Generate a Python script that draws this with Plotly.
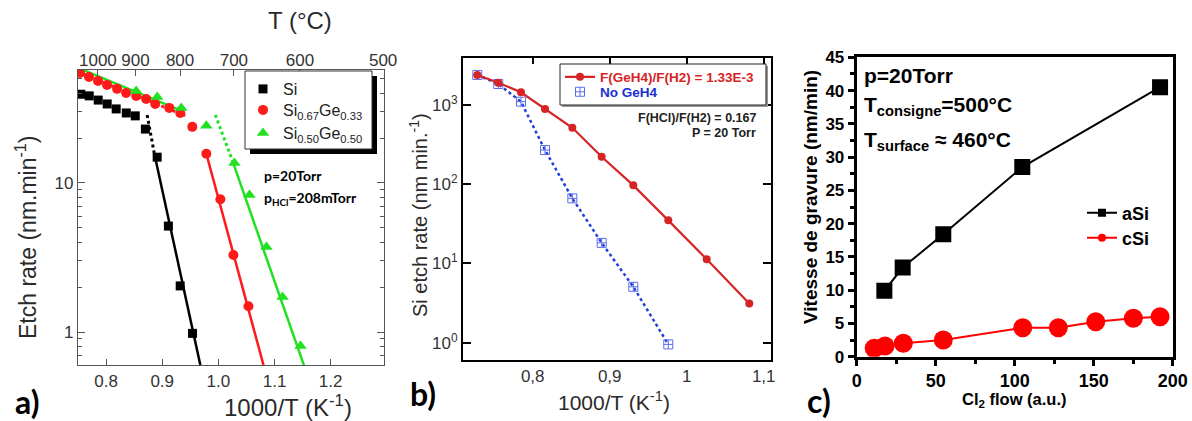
import plotly.graph_objects as go

W, H = 1192, 421

def PX(x):
    return x / W

def PY(y):
    return 1 - y / H

# ---------------- Panel a data ----------------
si_x = [0.755, 0.770, 0.786, 0.802, 0.818, 0.836, 0.852, 0.870, 0.891, 0.911, 0.932, 0.954]
si_y = [39.4, 38.4, 36.0, 33.9, 31.4, 29.5, 28.2, 23.0, 14.9, 5.14, 2.04, 0.98]
sige33_x = [0.7536, 0.7696, 0.7857, 0.8018, 0.8196, 0.8357, 0.8536, 0.8714, 0.8875, 0.9125,
            0.9321, 0.9536, 0.9786, 1.0036, 1.0268, 1.0536]
sige33_y = [54.7, 51.4, 48.4, 45.5, 42.8, 40.2, 38.4, 36.6, 33.9, 31.9, 29.5, 23.8, 15.7,
            7.78, 3.29, 1.49]
sige50_x = [0.8536, 0.8911, 0.9339, 0.9786, 1.0286, 1.0554, 1.0857, 1.1143, 1.1464]
sige50_y = [41.4, 37.8, 31.9, 24.2, 13.6, 8.3, 3.72, 1.72, 0.805]

si_fitdot_x = [0.8732, 0.8857]
si_fitdot_y = [28.6, 15.9]
si_fit_x = [0.8857, 0.9679]
si_fit_y = [15.9, 0.60]
r_fitdot_x = [0.750, 0.941]
r_fitdot_y = [55.6, 28.3]
r_fit_x = [0.9786, 1.0804]
r_fit_y = [15.7, 0.60]
g_fitup_x = [0.750, 0.938]
g_fitup_y = [59.2, 30.1]
g_fitdot_x = [0.9946, 1.0245]
g_fitdot_y = [28.6, 14.3]
g_fit_x = [1.0245, 1.1523]
g_fit_y = [14.3, 0.60]

a_xticks = [0.8, 0.9, 1.0, 1.1, 1.2]
a_xticktext = ["0.8", "0.9", "1.0", "1.1", "1.2"]
a_yticks = [1, 10]
a_yticktext = ["1", "10"]
a_yminor = [0.6, 0.7, 0.8, 0.9, 2, 3, 4, 5, 6, 7, 8, 9, 20, 30, 40, 50]
T_labels = [1000, 900, 800, 700, 600, 500]

# ---------------- Panel b data ----------------
b_x = [0.7281, 0.7553, 0.7848, 0.8160, 0.8515, 0.8896, 0.9307, 0.9761, 1.0260, 1.0813]
geh4_y = [2393, 1914, 1445, 890, 516, 222, 96.8, 35.0, 11.3, 3.13]
nogeh4_x = [0.7281, 0.7553, 0.7848, 0.8160, 0.8515, 0.8896, 0.9307, 0.9761]
nogeh4_y = [2393, 1841, 1101, 270, 66.4, 18.2, 5.08, 0.953]
b_xticks = [0.8, 0.9, 1.0, 1.1]
b_xticktext = ["0,8", "0,9", "1", "1,1"]
b_yticks = [1, 10, 100, 1000]
b_yticktext = ["10<sup>0</sup>", "10<sup>1</sup>", "10<sup>2</sup>", "10<sup>3</sup>"]

# ---------------- Panel c data ----------------
asi_x = [17.5, 29.1, 54.8, 104.8, 192.0]
asi_y = [9.9, 13.4, 18.4, 28.5, 40.5]
csi_x = [11.1, 17.9, 29.5, 54.8, 105.1, 127.6, 151.3, 175.1, 192.0]
csi_y = [1.26, 1.61, 2.01, 2.51, 4.36, 4.36, 5.26, 5.77, 6.01]
c_xticks = [0, 50, 100, 150, 200]
c_yticks = [0, 5, 10, 15, 20, 25, 30, 35, 40, 45]

RED_A = "#ff1a1a"
GREEN_A = "#22e022"
RED_B = "#d62424"
BLUE_B = "#1f3fd6"
BLUE_M = "#5a6cf0"

fig = go.Figure()

def add_line(x, y, color, dash, width, xa="x", ya="y"):
    fig.add_trace(go.Scatter(x=x, y=y, mode="lines", xaxis=xa, yaxis=ya,
                             line=dict(color=color, width=width, dash=dash),
                             showlegend=False, hoverinfo="skip"))

# ---- panel a traces ----
add_line(r_fitdot_x, r_fitdot_y, RED_A, "dot", 3)
add_line(g_fitup_x, g_fitup_y, GREEN_A, "solid", 2.5)
add_line(si_fitdot_x, si_fitdot_y, "black", "dot", 3)
add_line(si_fit_x, si_fit_y, "black", "solid", 2.5)
add_line(r_fit_x, r_fit_y, RED_A, "solid", 2.5)
add_line(g_fitdot_x, g_fitdot_y, GREEN_A, "dot", 3)
add_line(g_fit_x, g_fit_y, GREEN_A, "solid", 2.5)

fig.add_trace(go.Scatter(x=si_x, y=si_y, mode="markers", name="Si", xaxis="x", yaxis="y",
                         marker=dict(symbol="square", size=9, color="black"), legend="legend"))
fig.add_trace(go.Scatter(x=sige33_x, y=sige33_y, mode="markers",
                         name="Si<sub>0.67</sub>Ge<sub>0.33</sub>", xaxis="x", yaxis="y",
                         marker=dict(symbol="circle", size=10, color=RED_A), legend="legend2"))
fig.add_trace(go.Scatter(x=sige50_x, y=sige50_y, mode="markers",
                         name="Si<sub>0.50</sub>Ge<sub>0.50</sub>", xaxis="x", yaxis="y",
                         marker=dict(symbol="triangle-up", size=11, color=GREEN_A), legend="legend3"))
fig.add_trace(go.Scatter(x=[1000 / (T + 273.15) for T in T_labels], y=[None] * len(T_labels),
                         xaxis="x2", yaxis="y", mode="markers", showlegend=False, hoverinfo="skip"))

# ---- panel b traces ----
fig.add_trace(go.Scatter(x=nogeh4_x, y=nogeh4_y, mode="lines+markers", xaxis="x3", yaxis="y3",
                         line=dict(color=BLUE_B, width=2.5, dash="dot"),
                         marker=dict(symbol="square-cross-open", size=9, color=BLUE_M,
                                     line=dict(width=1, color=BLUE_M)),
                         showlegend=False))
fig.add_trace(go.Scatter(x=b_x, y=geh4_y, mode="lines+markers", xaxis="x3", yaxis="y3",
                         line=dict(color=RED_B, width=2.2),
                         marker=dict(symbol="circle", size=8, color=RED_B),
                         name="<b>F(GeH4)/F(H2) = 1.33E-3</b>", legend="legend4"))
fig.add_trace(go.Scatter(x=[None], y=[None], mode="markers", xaxis="x3", yaxis="y3",
                         marker=dict(symbol="square-cross-open", size=9, color=BLUE_M,
                                     line=dict(width=1, color=BLUE_M)),
                         name="<b>No GeH4</b>", legend="legend5"))
fig.add_trace(go.Scatter(x=b_xticks, y=[None] * len(b_xticks), xaxis="x5", yaxis="y3",
                         mode="markers", showlegend=False, hoverinfo="skip"))

# ---- panel c traces ----
fig.add_trace(go.Scatter(x=asi_x, y=asi_y, mode="lines+markers", xaxis="x4", yaxis="y4",
                         line=dict(color="black", width=2),
                         marker=dict(symbol="square", size=16, color="black"),
                         showlegend=False))
fig.add_trace(go.Scatter(x=csi_x, y=csi_y, mode="lines+markers", xaxis="x4", yaxis="y4",
                         line=dict(color="#ff0000", width=2),
                         marker=dict(symbol="circle", size=19, color="#ff0000"),
                         showlegend=False))
fig.add_trace(go.Scatter(x=[None], y=[None], mode="lines+markers", xaxis="x4", yaxis="y4",
                         line=dict(color="black", width=2),
                         marker=dict(symbol="square", size=8, color="black"),
                         name="aSi", legend="legend6"))
fig.add_trace(go.Scatter(x=[None], y=[None], mode="lines+markers", xaxis="x4", yaxis="y4",
                         line=dict(color="#ff0000", width=2),
                         marker=dict(symbol="circle", size=8, color="#ff0000"),
                         name="cSi", legend="legend7"))

FA = "Liberation Sans, Arial, sans-serif"
GREYA = "#555555"
TXT = "#2a2a2a"

a_range = [0.75, 1.295]
b_range = [0.7095, 1.1095]

common = dict(automargin=False, showgrid=False, zeroline=False)

def leg(x, y, size, color, bold=False):
    return dict(x=PX(x), y=PY(y), xanchor="left", yanchor="middle", bgcolor="rgba(0,0,0,0)",
                borderwidth=0,
                font=dict(size=size, color=color, family=FA, weight="bold" if bold else "normal"))

layout = dict(
    width=W, height=H, margin=dict(l=0, r=0, t=0, b=0, autoexpand=False),
    paper_bgcolor="white", plot_bgcolor="white",
    font=dict(family=FA, color=TXT),
    xaxis=dict(domain=[PX(78), PX(384)], anchor="y", range=a_range,
               tickvals=a_xticks, ticktext=a_xticktext, ticks="inside", ticklen=6,
               tickcolor=GREYA, showline=True, linecolor=GREYA, linewidth=1.2, mirror=True,
               tickfont=dict(size=17, color="#333"), **common),
    xaxis2=dict(overlaying="x", anchor="y", side="top", range=a_range,
                tickvals=[1000 / (T + 273.15) for T in T_labels],
                ticktext=[str(T) for T in T_labels], ticks="inside", ticklen=6,
                tickcolor=GREYA, showline=False,
                tickfont=dict(size=17, color="#333"), **common),
    yaxis=dict(domain=[PY(365), PY(70)], anchor="x", type="log", range=[-0.221, 1.758],
               tickvals=a_yticks, ticktext=a_yticktext, ticks="inside", ticklen=7,
               tickcolor=GREYA, showline=True, linecolor=GREYA, linewidth=1.2,
               mirror="ticks", tickfont=dict(size=17, color="#333"),
               minor=dict(tickvals=a_yminor, ticks="inside", ticklen=4, tickcolor=GREYA),
               **common),
    xaxis3=dict(domain=[PX(463), PX(771)], anchor="y3", range=b_range,
                tickvals=b_xticks, ticktext=b_xticktext, ticks="", showline=True,
                linecolor="black", linewidth=2, mirror=True,
                tickfont=dict(size=17, color="#333"), **common),
    xaxis5=dict(overlaying="x3", anchor="y3", side="top", range=b_range,
                tickvals=b_xticks, showticklabels=False, ticks="inside", ticklen=6,
                tickwidth=2, tickcolor="black", showline=False, **common),
    yaxis3=dict(domain=[PY(360), PY(58)], anchor="x3", type="log", range=[-0.218, 3.593],
                tickvals=b_yticks, ticktext=b_yticktext, ticks="inside", ticklen=8,
                tickwidth=2, tickcolor="black", showline=True, linecolor="black", linewidth=2,
                mirror="ticks", tickfont=dict(size=17, color="#333"), **common),
    xaxis4=dict(domain=[PX(856.7), PX(1172.7)], anchor="y4", range=[0, 200],
                tickvals=c_xticks, ticks="outside", ticklen=6, tickwidth=3,
                tickcolor="black", showline=True, linecolor="black", linewidth=3, mirror=True,
                tickfont=dict(size=18, color="black", family=FA, weight="bold"),
                minor=dict(tickvals=[25, 75, 125, 175], ticks="outside", ticklen=4,
                           tickwidth=3, tickcolor="black"), **common),
    yaxis4=dict(domain=[PY(356.7), PY(57.3)], anchor="x4", range=[0, 45],
                tickvals=c_yticks, ticks="outside", ticklen=6,
                tickwidth=3, tickcolor="black", showline=True, linecolor="black", linewidth=3,
                mirror=True, tickfont=dict(size=17, color="black", family=FA, weight="bold"),
                minor=dict(tickvals=[2.5 + 5 * i for i in range(9)], ticks="outside",
                           ticklen=4, tickwidth=3, tickcolor="black"), **common),
    legend=leg(243, 89, 16, "#222"),
    legend2=leg(243, 110, 16, "#222"),
    legend3=leg(243, 133, 16, "#222"),
    legend4=leg(560, 77, 13.5, RED_B, bold=True),
    legend5=leg(560, 92, 13.5, "#1a2fd0", bold=True),
    legend6=leg(1082, 213, 18, "black", bold=True),
    legend7=leg(1082, 238, 18, "black", bold=True),
)
fig.update_layout(**layout)

shapes = [
    dict(type="rect", xref="paper", yref="paper", x0=PX(250), x1=PX(377), y0=PY(154), y1=PY(76),
         fillcolor="black", line=dict(width=0), layer="above"),
    dict(type="rect", xref="paper", yref="paper", x0=PX(245), x1=PX(372), y0=PY(149), y1=PY(71),
         fillcolor="white", line=dict(width=1, color="#333"), layer="above"),
    dict(type="rect", xref="paper", yref="paper", x0=PX(562), x1=PX(768), y0=PY(107), y1=PY(66),
         fillcolor="#999999", line=dict(width=0), layer="above"),
    dict(type="rect", xref="paper", yref="paper", x0=PX(560), x1=PX(766), y0=PY(105), y1=PY(64),
         fillcolor="white", line=dict(width=1, color="#222"), layer="above"),
]
fig.update_layout(shapes=shapes)

LATO = "Lato, Carlito, sans-serif"
ann = []
def A(text, x, y, size, xanchor="center", yanchor="middle", angle=0, color=TXT, family=FA, bold=False):
    ann.append(dict(text=text, x=PX(x), y=PY(y), xref="paper", yref="paper", showarrow=False,
                    xanchor=xanchor, yanchor=yanchor, textangle=angle,
                    font=dict(size=size, color=color, family=family,
                              weight="bold" if bold else "normal")))

# panel a
A("T (°C)", 300, 20, 24)
A("Etch rate (nm.min<sup>-1</sup>)", 26, 238, 23, angle=-90)
A("1000/T (K<sup>-1</sup>)", 288, 406, 24)
A("a)", 27, 401, 32, color="black", family=LATO, bold=True)
A("p=20Torr", 262, 175, 14, xanchor="left", color="black", family=LATO, bold=True)
A("p<sub>HCl</sub>=208mTorr", 262, 198, 14, xanchor="left", color="black", family=LATO, bold=True)
# panel b
A("Si etch rate (nm min.<sup>-1</sup>)", 418, 215, 20, angle=-90)
A("1000/T (K<sup>-1</sup>)", 614, 401, 21)
A("b)", 423, 393, 32, color="black", family=LATO, bold=True)
A("F(HCl)/F(H2) = 0.167", 758, 118, 12.5, xanchor="right", color="#222", bold=True)
A("P = 20 Torr", 758, 133, 12.5, xanchor="right", color="#222", bold=True)
# panel c
A("Vitesse de gravure (nm/min)", 810, 197, 19, angle=-90, color="black", bold=True)
A("Cl<sub>2</sub> flow (a.u.)", 1014, 400, 16.5, color="black", bold=True)
A("c)", 819, 400, 32, color="black", family=LATO, bold=True)
A("p=20Torr", 862, 75, 21, xanchor="left", color="black", bold=True)
A("T<sub>consigne</sub>=500°C", 862, 106, 21, xanchor="left", color="black", bold=True)
A("T<sub>surface</sub> ≈ 460°C", 862, 141, 21, xanchor="left", color="black", bold=True)
fig.update_layout(annotations=ann)

fig.write_html("out.html", config={"displayModeBar": False},
               post_script="document.body.style.margin='0';")
